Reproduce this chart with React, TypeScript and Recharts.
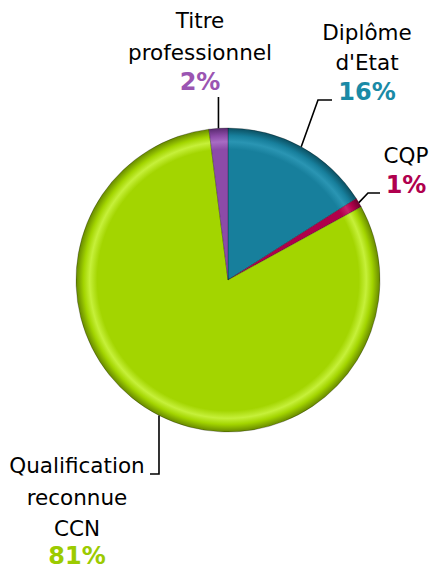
import React from "react";
import { PieChart, Pie, Cell } from "recharts";

// ---- data ----
const categories = ["Diplôme\nd'Etat", "CQP", "Qualification\nreconnue\nCCN", "Titre\nprofessionnel"];
const shares = [16, 1, 81, 2];
const percentLabels = ["16%", "1%", "81%", "2%"];

// ---- styling / layout ----
const sliceColors = ["#177F9C", "#B0004A", "#A3D500", "#8C4BA8"];
const rimLight = ["#2a95b3", "#c8206a", "#c6f03a", "#a86cc4"];
const rimDark = ["#0b4f61", "#6a002c", "#678800", "#5a2a70"];
const pctColors = ["#1A8AA6", "#B0004E", "#9CCB00", "#9B55B2"];

const CX = 228;
const CY = 280;
const R = 152;

type Layout = {
  tx: number;
  baselines: number[];
  pctY: number;
  path: (p: { x: number; y: number }) => string;
};

const layouts: Layout[] = [
  { tx: 367, baselines: [40, 70], pctY: 100, path: (p) => `M${p.x},${p.y} L318,100 L332,100` },
  { tx: 406, baselines: [163], pctY: 193, path: (p) => `M${p.x},${p.y} L368,193 L380,193` },
  { tx: 77, baselines: [473, 505, 536], pctY: 564, path: (p) => `M${p.x},${p.y} L${p.x},474 L150,474` },
  { tx: 200, baselines: [28, 60], pctY: 90, path: (p) => `M${p.x},${p.y} L${p.x},97` },
];

const data = categories.map((name, i) => ({ name, value: shares[i], pct: percentLabels[i] }));

const RAD = Math.PI / 180;

const renderLabel = (props: any) => {
  const { cx, cy, midAngle, outerRadius, index } = props;
  const lay = layouts[index];
  const p = {
    x: cx + outerRadius * Math.cos(-midAngle * RAD),
    y: cy + outerRadius * Math.sin(-midAngle * RAD),
  };
  const lines = data[index].name.split("\n");
  return (
    <g key={`lbl-${index}`}>
      <path d={lay.path(p)} stroke="#000" strokeWidth={1.6} fill="none" />
      {lines.map((ln, j) => (
        <text
          key={j}
          x={lay.tx}
          y={lay.baselines[j]}
          textAnchor="middle"
          fontSize={21.5}
          fill="#000"
          fontFamily="DejaVu Sans, Verdana, sans-serif"
        >
          {ln}
        </text>
      ))}
      <text
        x={lay.tx}
        y={lay.pctY}
        textAnchor="middle"
        fontSize={24}
        fontWeight="bold"
        fill={pctColors[index]}
        fontFamily="DejaVu Sans, Verdana, sans-serif"
      >
        {data[index].pct}
      </text>
    </g>
  );
};

export default function App() {
  return (
    <div style={{ position: "absolute", left: 0, top: 0, width: 431, height: 571, background: "#fff" }}>
      <PieChart width={431} height={571} margin={{ top: 0, right: 0, bottom: 0, left: 0 }}>
        <defs>
          {sliceColors.map((c, i) => (
            <radialGradient
              key={i}
              id={`grad${i}`}
              gradientUnits="userSpaceOnUse"
              cx={CX}
              cy={CY}
              r={R}
            >
              <stop offset="0%" stopColor={c} />
              <stop offset="86%" stopColor={c} />
              <stop offset="91%" stopColor={rimLight[i]} />
              <stop offset="95%" stopColor={c} />
              <stop offset="100%" stopColor={rimDark[i]} />
            </radialGradient>
          ))}
        </defs>
        <Pie
          data={data}
          dataKey="value"
          nameKey="name"
          cx={CX}
          cy={CY}
          outerRadius={R}
          startAngle={90}
          endAngle={-270}
          isAnimationActive={false}
          label={renderLabel}
          labelLine={false}
          stroke="rgba(0,0,0,0.25)"
          strokeWidth={1}
        >
          {data.map((_, i) => (
            <Cell key={i} fill={`url(#grad${i})`} />
          ))}
        </Pie>
      </PieChart>
    </div>
  );
}
